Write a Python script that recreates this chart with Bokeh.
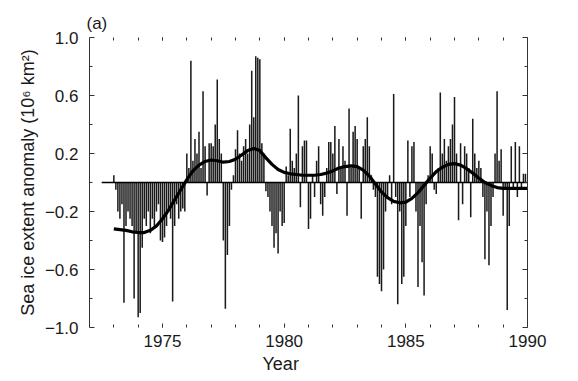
from bokeh.plotting import figure
from bokeh.models import Range1d, LinearAxis, FixedTicker, Title, ColumnDataSource
from bokeh.embed import file_html
from bokeh.resources import INLINE

# ---------------- data ----------------
years = list(range(1973, 1990))
anom_1973 = [0.05, -0.05, -0.20, -0.25, -0.15, -0.83, -0.30, -0.20, -0.25, -0.30, -0.80, -0.35]
anom_1974 = [-0.93, -0.90, -0.45, -0.25, -0.30, -0.20, -0.35, -0.25, -0.30, -0.20, -0.15, -0.40]
anom_1975 = [-0.41, -0.38, -0.30, -0.20, -0.25, -0.82, -0.30, -0.15, -0.25, -0.20, -0.18, -0.20]
anom_1976 = [0.20, 0.10, 0.84, 0.15, 0.30, 0.20, 0.35, 0.10, 0.63, 0.25, -0.09, 0.27]
anom_1977 = [0.27, 0.25, 0.40, 0.71, 0.30, 0.20, -0.40, -0.87, -0.50, -0.30, -0.05, 0.05]
anom_1978 = [0.23, 0.36, 0.20, 0.15, 0.25, 0.30, 0.20, 0.40, 0.77, 0.45, 0.87, 0.86]
anom_1979 = [0.85, 0.27, 0.20, -0.06, -0.10, -0.20, -0.30, -0.45, -0.35, -0.49, -0.20, -0.30]
anom_1980 = [-0.28, 0.11, 0.05, 0.37, 0.15, 0.10, 0.20, 0.60, -0.17, 0.25, 0.29, 0.29]
anom_1981 = [-0.32, -0.25, 0.05, -0.10, 0.15, 0.25, -0.15, -0.23, -0.10, 0.10, 0.28, 0.28]
anom_1982 = [0.20, 0.39, -0.08, 0.30, 0.10, 0.25, 0.15, -0.23, 0.51, 0.10, 0.35, 0.39]
anom_1983 = [0.30, 0.10, -0.25, 0.25, 0.30, 0.45, 0.25, 0.05, -0.05, -0.10, -0.65, -0.70]
anom_1984 = [-0.75, -0.60, -0.20, -0.10, 0.05, -0.15, 0.61, -0.10, -0.84, -0.20, -0.70, -0.65]
anom_1985 = [-0.30, 0.29, -0.10, 0.25, 0.28, -0.20, -0.72, -0.30, -0.55, -0.78, -0.15, 0.05]
anom_1986 = [0.25, 0.20, -0.05, -0.08, 0.10, 0.62, 0.20, 0.30, 0.15, 0.25, 0.30, 0.40]
anom_1987 = [0.59, 0.20, -0.26, 0.27, -0.15, 0.25, 0.20, 0.10, -0.24, 0.44, 0.20, 0.10]
anom_1988 = [0.15, 0.10, -0.10, -0.53, -0.20, -0.57, -0.30, -0.10, 0.20, 0.63, 0.15, 0.23]
anom_1989 = [-0.23, -0.05, -0.88, -0.30, 0.25, -0.05, 0.28, -0.10, 0.25, -0.05, 0.06, 0.06]

curve_years = [1973.0, 1973.25, 1973.5, 1973.75, 1974.0, 1974.25, 1974.5, 1974.75,
               1975.0, 1975.25, 1975.5, 1975.75, 1976.0, 1976.25, 1976.5, 1976.75,
               1977.0, 1977.25, 1977.5, 1977.75, 1978.0, 1978.25, 1978.5, 1978.75,
               1979.0, 1979.25, 1979.5, 1979.75, 1980.0, 1980.25, 1980.5, 1980.75,
               1981.0, 1981.25, 1981.5, 1981.75, 1982.0, 1982.25, 1982.5, 1982.75,
               1983.0, 1983.25, 1983.5, 1983.75, 1984.0, 1984.25, 1984.5, 1984.75,
               1985.0, 1985.25, 1985.5, 1985.75, 1986.0, 1986.25, 1986.5, 1986.75,
               1987.0, 1987.25, 1987.5, 1987.75, 1988.0, 1988.25, 1988.5, 1988.75,
               1989.0, 1989.25, 1989.5, 1989.75, 1990.0]
curve_values = [-0.32, -0.325, -0.33, -0.34, -0.345, -0.345, -0.33, -0.30,
                -0.25, -0.19, -0.12, -0.05, 0.02, 0.08, 0.12, 0.145,
                0.155, 0.15, 0.14, 0.145, 0.16, 0.19, 0.22, 0.235,
                0.22, 0.17, 0.125, 0.09, 0.07, 0.06, 0.055, 0.05,
                0.05, 0.05, 0.055, 0.065, 0.08, 0.10, 0.11, 0.115,
                0.11, 0.085, 0.045, -0.01, -0.065, -0.105, -0.13, -0.14,
                -0.135, -0.11, -0.07, -0.02, 0.03, 0.075, 0.105, 0.125,
                0.13, 0.12, 0.095, 0.065, 0.03, 0.0, -0.02, -0.035,
                -0.04, -0.04, -0.04, -0.04, -0.04]

zero_line_x = [1972.5, 1990.0]
zero_line_y = [0.0, 0.0]

y_ticks = [-1.0, -0.6, -0.2, 0.2, 0.6, 1.0]
y_labels = ["\u22121.0", "\u22120.6", "\u22120.2", "0.2", "0.6", "1.0"]
y_minor = [-0.8, -0.4, 0.0, 0.4, 0.8]
x_ticks = [1975, 1980, 1985, 1990]
x_minor = list(range(1973, 1990))

panel_label = "(a)"
x_title = "Year"
y_title = "Sea ice extent anomaly (10\u2076 km\u00b2)"

all_anoms = [anom_1973, anom_1974, anom_1975, anom_1976, anom_1977, anom_1978,
             anom_1979, anom_1980, anom_1981, anom_1982, anom_1983, anom_1984,
             anom_1985, anom_1986, anom_1987, anom_1988, anom_1989]
month_x = []
month_v = []
for yr, vals in zip(years, all_anoms):
    for m, v in enumerate(vals):
        month_x.append(yr + m / 12.0)
        month_v.append(v)

src = ColumnDataSource(dict(x=month_x, top=month_v))

# ---------------- figure ----------------
FONT = "Liberation Sans"
TXT = "#1a1a1a"

p = figure(width=570, height=381, output_backend="svg", toolbar_location=None,
           x_range=Range1d(1972, 1990), y_range=Range1d(-1.0, 1.0),
           x_axis_location=None, y_axis_location=None,
           min_border_left=89, min_border_right=43, min_border_top=37, min_border_bottom=54)
p.outline_line_color = None
p.grid.visible = False
p.background_fill_color = "white"
p.border_fill_color = "white"

p.vbar(x="x", top="top", bottom=0, width=0.75 / 12, source=src,
       fill_color="#1a1a1a", line_color=None)
p.line(zero_line_x, zero_line_y, line_color="black", line_width=1.3)
p.line(curve_years, curve_values, line_color="black", line_width=3.2, line_join="round")

def style_axis(ax, labels=True):
    ax.major_tick_in = 5
    ax.major_tick_out = 0
    ax.minor_tick_in = 3
    ax.minor_tick_out = 0
    ax.major_tick_line_color = "#333333"
    ax.minor_tick_line_color = "#333333"
    ax.major_label_text_font = FONT
    if labels:
        ax.major_label_text_font_size = "17px"
        ax.major_label_text_color = TXT
    else:
        ax.major_label_text_font_size = "0px"
        ax.major_label_text_color = None
        ax.major_label_standoff = 0

left = LinearAxis(ticker=FixedTicker(ticks=y_ticks, minor_ticks=y_minor),
                  major_label_overrides=dict(zip(y_ticks, y_labels)))
style_axis(left)
left.axis_line_color = "#333333"
left.major_label_standoff = 11
left.axis_label = y_title
left.axis_label_text_font = FONT
left.axis_label_text_font_size = "18px"
left.axis_label_text_font_style = "normal"
left.axis_label_text_color = TXT
left.axis_label_standoff = 4
p.add_layout(left, "left")

right = LinearAxis(ticker=FixedTicker(ticks=y_ticks, minor_ticks=y_minor))
style_axis(right, labels=False)
right.axis_line_color = "#333333"
p.add_layout(right, "right")

bottom = LinearAxis(ticker=FixedTicker(ticks=x_ticks, minor_ticks=x_minor))
style_axis(bottom)
bottom.axis_line_color = None
bottom.major_tick_in = 4
bottom.minor_tick_in = 3
bottom.major_label_standoff = 7
p.add_layout(bottom, "below")

top = LinearAxis(ticker=FixedTicker(ticks=x_ticks, minor_ticks=x_minor))
style_axis(top, labels=False)
top.axis_line_color = None
top.major_tick_in = 3
top.minor_tick_in = 3
p.add_layout(top, "above")

p.add_layout(Title(text=x_title, align="left", offset=173, standoff=4,
                   text_font=FONT, text_font_size="18px", text_font_style="normal",
                   text_color=TXT), "below")
p.add_layout(Title(text=panel_label, align="left", offset=-3, standoff=10,
                   text_font=FONT, text_font_size="17px", text_font_style="normal",
                   text_color=TXT), "above")

open("out.html", "w").write(file_html(p, INLINE))
